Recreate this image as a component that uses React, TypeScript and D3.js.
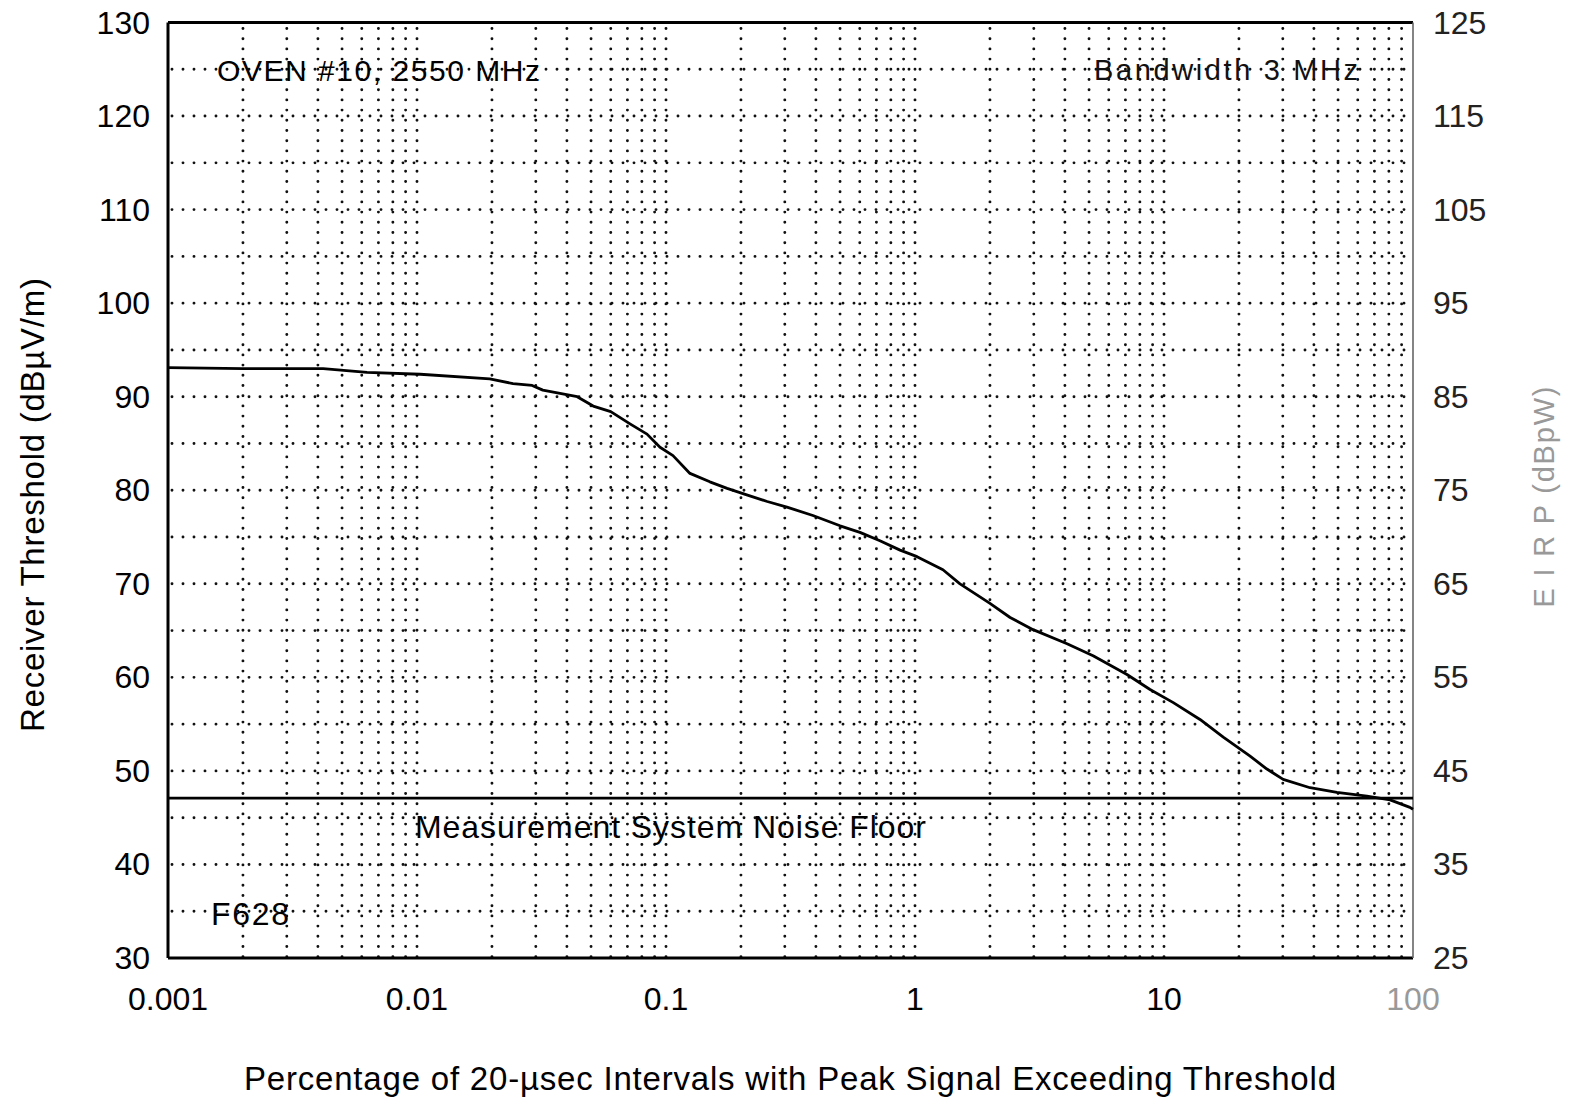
import { useMemo } from 'react';
import * as d3 from 'd3';

// curve: percentage of intervals vs receiver threshold
const pct = [0.001, 0.002, 0.0031, 0.0042, 0.0063, 0.0103, 0.0196, 0.0243, 0.029, 0.032, 0.044, 0.051, 0.06, 0.0717, 0.0839, 0.0946, 0.1067, 0.1248, 0.15, 0.176, 0.211, 0.255, 0.306, 0.389, 0.5, 0.601, 0.723, 0.871, 1.019, 1.295, 1.516, 2.0, 2.41, 2.98, 4.08, 5.19, 7.1, 8.79, 10.9, 13.95, 17.3, 22.1, 25.9, 30.1, 38.6, 49.5, 65.3, 80.9, 97.2, 100];
const threshold = [93.1, 93.0, 93.0, 93.0, 92.6, 92.4, 91.9, 91.4, 91.2, 90.7, 90.0, 89.0, 88.4, 87.1, 86.0, 84.6, 83.7, 81.8, 80.9, 80.2, 79.5, 78.8, 78.2, 77.3, 76.2, 75.5, 74.6, 73.6, 72.9, 71.5, 70.0, 67.9, 66.4, 65.1, 63.6, 62.3, 60.3, 58.7, 57.3, 55.5, 53.6, 51.6, 50.2, 49.1, 48.2, 47.7, 47.3, 46.9, 46.1, 45.9];

const noiseFloor = 47.1;

const leftTicks = [30, 40, 50, 60, 70, 80, 90, 100, 110, 120, 130];
const rightTicks = [25, 35, 45, 55, 65, 75, 85, 95, 105, 115, 125];
const xTicks = [0.001, 0.01, 0.1, 1, 10, 100];
const xTickLabels = ['0.001', '0.01', '0.1', '1', '10', '100'];

const font = '"Liberation Sans", Arial, Helvetica, sans-serif';

export default function App() {
  const width = 1577;
  const height = 1100;
  const left = 168, right = 1413, top = 22.5, bottom = 958;

  const x = d3.scaleLog().domain([0.001, 100]).range([left, right]);
  const y = d3.scaleLinear().domain([30, 130]).range([bottom, top]);
  // EIRP axis sits 5 dB below the receiver threshold axis
  const yR = d3.scaleLinear().domain([25, 125]).range([bottom, top]);

  const gridX = useMemo(() => {
    const out: number[] = [];
    [0.001, 0.01, 0.1, 1, 10].forEach(dec => {
      for (let k = 2; k <= 10; k++) out.push(dec * k);
    });
    return out.filter(v => v < 100);
  }, []);
  const gridY = d3.range(35, 130, 5);

  const line = d3.line<number>()
    .x((d, i) => x(pct[i]))
    .y(d => y(d));

  const dot = { stroke: '#111', strokeWidth: 2.9, strokeLinecap: 'round' as const, fill: 'none' };

  return (
    <svg width={width} height={height} style={{ position: 'absolute', left: 0, top: 0, background: '#fff' }} fontFamily={font}>
      <rect width={width} height={height} fill="#fff" />

      {/* dotted grid */}
      <g>
        {gridY.map(v => (
          <line key={'gy' + v} x1={left + 4} x2={right} y1={y(v)} y2={y(v)} {...dot} strokeDasharray="0 11" />
        ))}
        {gridX.map(v => (
          <line key={'gx' + v} x1={x(v)} x2={x(v)} y1={top + 6} y2={bottom} {...dot} strokeDasharray="0 10.2" />
        ))}
      </g>

      {/* frame */}
      <line x1={left} x2={right} y1={top} y2={top} stroke="#000" strokeWidth={3} />
      <line x1={left} x2={left} y1={top} y2={bottom} stroke="#000" strokeWidth={3} />
      <line x1={left} x2={right} y1={bottom} y2={bottom} stroke="#000" strokeWidth={3} />
      <line x1={right} x2={right} y1={top} y2={bottom} stroke="#666" strokeWidth={1.6} />

      {/* noise floor */}
      <line x1={left} x2={right} y1={y(noiseFloor)} y2={y(noiseFloor)} stroke="#000" strokeWidth={2.8} />

      {/* measured curve */}
      <path d={line(threshold) as string} fill="none" stroke="#000" strokeWidth={2.8} strokeLinejoin="round" />

      {/* left tick labels */}
      {leftTicks.map(v => (
        <text key={'l' + v} x={150} y={y(v)} textAnchor="end" dominantBaseline="central" fontSize={32} fill="#000">{v}</text>
      ))}
      {/* right tick labels */}
      {rightTicks.map(v => (
        <text key={'r' + v} x={1433} y={yR(v)} textAnchor="start" dominantBaseline="central" fontSize={32} fill="#222">{v}</text>
      ))}
      {/* x tick labels */}
      {xTicks.map((v, i) => (
        <text key={'x' + v} x={x(v)} y={999} textAnchor="middle" dominantBaseline="central" fontSize={32}
          fill={i === xTicks.length - 1 ? '#999' : '#000'}>{xTickLabels[i]}</text>
      ))}

      {/* annotations */}
      <text x={217} y={81} fontSize={30} textLength={323} lengthAdjust="spacing" fill="#000">OVEN #10, 2550 MHz</text>
      <text x={1094} y={80} fontSize={29} textLength={264} lengthAdjust="spacing" fill="#111">Bandwidth 3 MHz</text>
      <text x={415} y={838} fontSize={32} textLength={511} lengthAdjust="spacing" fill="#000">Measurement System Noise Floor</text>
      <text x={211} y={925} fontSize={32} textLength={78} lengthAdjust="spacing" fill="#000">F628</text>

      {/* axis titles */}
      <text transform={`translate(32,${505}) rotate(-90)`} textAnchor="middle" dominantBaseline="central" fontSize={33}
        textLength={454} lengthAdjust="spacing" fill="#000">Receiver Threshold (dBµV/m)</text>
      <text transform={`translate(1544,${497}) rotate(-90)`} textAnchor="middle" dominantBaseline="central" fontSize={29}
        textLength={221} lengthAdjust="spacing" fill="#999">E I R P (dBpW)</text>
      <text x={790} y={1078} textAnchor="middle" dominantBaseline="central" fontSize={33}
        textLength={1092} lengthAdjust="spacing" fill="#000">Percentage of 20-µsec Intervals with Peak Signal Exceeding Threshold</text>
    </svg>
  );
}
